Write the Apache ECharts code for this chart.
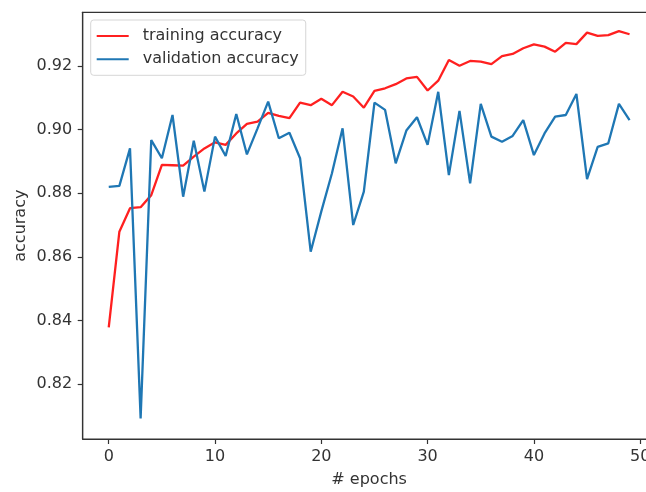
<!DOCTYPE html>
<html>
<head>
<meta charset="utf-8">
<script src="https://cdn.jsdelivr.net/npm/echarts@6/dist/echarts.min.js"></script>
<style>html,body{margin:0;padding:0;background:#fff;}#c{width:646px;height:492px;}</style>
</head>
<body>
<div id="c"></div>
<script>
const epochs = [0,1,2,3,4,5,6,7,8,9,10,11,12,13,14,15,16,17,18,19,20,21,22,23,24,25,26,27,28,29,30,31,32,33,34,35,36,37,38,39,40,41,42,43,44,45,46,47,48,49];
const trainingAccuracy = [0.8378,0.8679,0.8753,0.8756,0.8794,0.8889,0.8888,0.8887,0.8915,0.8941,0.8960,0.8952,0.8988,0.9018,0.9025,0.9053,0.9043,0.9036,0.9085,0.9077,0.9097,0.9077,0.9119,0.9104,0.9069,0.9122,0.9130,0.9143,0.9161,0.9166,0.9123,0.9154,0.9219,0.9201,0.9216,0.9214,0.9206,0.9231,0.9238,0.9256,0.9268,0.9261,0.9245,0.9273,0.9269,0.9305,0.9295,0.9297,0.9310,0.9300];
const validationAccuracy = [0.8820,0.8823,0.8941,0.8092,0.8967,0.8910,0.9046,0.8789,0.8965,0.8805,0.8978,0.8917,0.9049,0.8922,0.9004,0.9088,0.8973,0.8990,0.8910,0.8616,0.8743,0.8863,0.9004,0.8700,0.8805,0.9085,0.9062,0.8894,0.8997,0.9039,0.8952,0.9119,0.8857,0.9059,0.8831,0.9081,0.8978,0.8962,0.8980,0.9030,0.8920,0.8988,0.9041,0.9046,0.9112,0.8844,0.8946,0.8957,0.9081,0.9030];
const xTicks = [0,10,20,30,40,50];
const yTicks = [0.82,0.84,0.86,0.88,0.90,0.92];

const chart = echarts.init(document.getElementById('c'), null, {renderer:'canvas'});
const font = 'DejaVu Sans';
const axisColor = '#333';
const textColor = '#333';
const fs = 16;
chart.setOption({
  animation:false,
  backgroundColor:'#fff',
  grid:{left:82.7, right:-9.6, top:12.3, bottom:53, show:true, borderColor:axisColor, borderWidth:1.2, outerBoundsMode:'none'},
  legend:{
    orient:'vertical', left:90.7, top:20,
    data:['training accuracy','validation accuracy'],
    icon:'rect', itemWidth:32, itemHeight:2, itemGap:5.3,
    padding:[7,7,7,6],
    borderColor:'#d6d6d6', borderWidth:1, borderRadius:3, backgroundColor:'rgba(255,255,255,0.8)',
    textStyle:{fontFamily:font, fontSize:fs, color:textColor, lineHeight:18, padding:[0,0,0,9]}
  },
  xAxis:{
    type:'value', min:-2.45, max:51.45,
    name:'# epochs', nameLocation:'middle', nameGap:33, nameMoveOverlap:false,
    nameTextStyle:{fontFamily:font, fontSize:fs, color:textColor},
    splitLine:{show:false},
    axisLine:{show:true, onZero:false, lineStyle:{color:axisColor, width:1.2}},
    axisTick:{show:true, length:5, inside:false, customValues:xTicks, lineStyle:{color:axisColor, width:1.2}},
    axisLabel:{customValues:xTicks, margin:10, fontFamily:font, fontSize:fs, color:textColor, formatter:v=>String(Math.round(v))}
  },
  yAxis:{
    type:'value', min:0.8027, max:0.9369,
    name:'accuracy', nameLocation:'middle', nameGap:54, nameMoveOverlap:false,
    nameTextStyle:{fontFamily:font, fontSize:fs, color:textColor},
    splitLine:{show:false},
    axisLine:{show:true, onZero:false, lineStyle:{color:axisColor, width:1.2}},
    axisTick:{show:true, length:5, inside:false, customValues:yTicks, lineStyle:{color:axisColor, width:1.2}},
    axisLabel:{customValues:yTicks, margin:10.5, fontFamily:font, fontSize:fs, color:textColor, formatter:v=>v.toFixed(2)}
  },
  series:[
    {name:'training accuracy', type:'line', symbol:'none', color:'#ff2020',
     lineStyle:{width:2.3, color:'#ff2020'}, data:epochs.map((e,i)=>[e,trainingAccuracy[i]])},
    {name:'validation accuracy', type:'line', symbol:'none', color:'#1f77b4',
     lineStyle:{width:2.3, color:'#1f77b4'}, data:epochs.map((e,i)=>[e,validationAccuracy[i]])}
  ]
});
</script>
</body>
</html>
